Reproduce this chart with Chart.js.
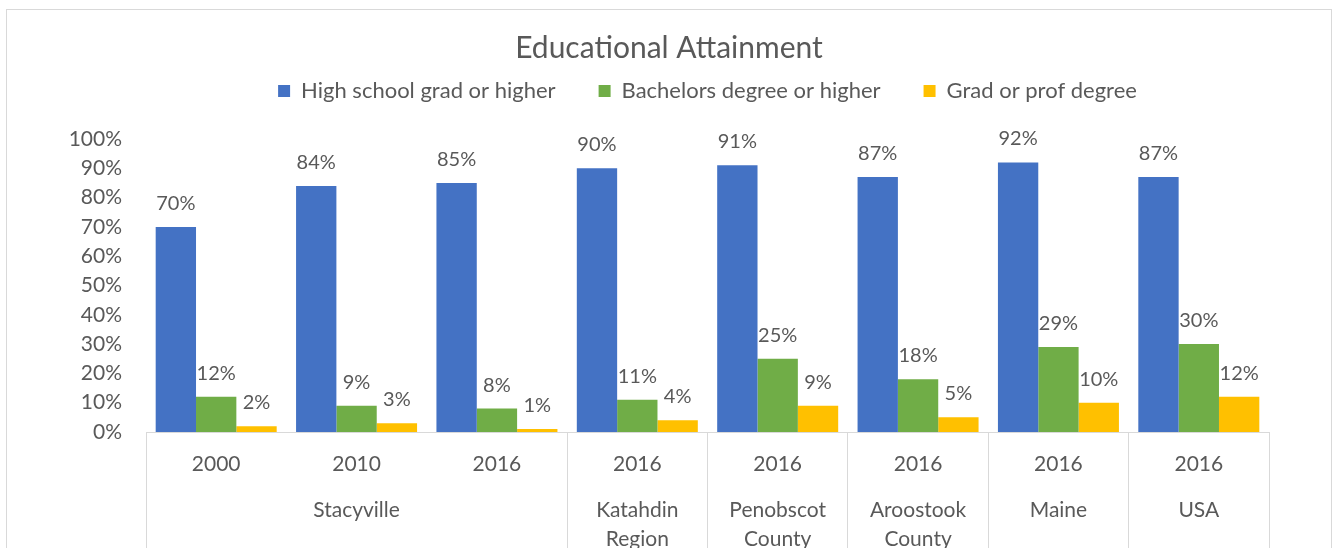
<!DOCTYPE html>
<html>
<head>
<meta charset="utf-8">
<script src="https://cdn.jsdelivr.net/npm/chart.js@4.4.1/dist/chart.umd.min.js"></script>
<style>
  html, body { margin: 0; padding: 0; background: #ffffff; }
  canvas { display: block; }
</style>
</head>
<body>
<canvas class="edu-chart" width="1333" height="548"></canvas>
<script>
const years = ["2000", "2010", "2016", "2016", "2016", "2016", "2016", "2016"];
const places = ["Stacyville", ["Katahdin", "Region"], ["Penobscot", "County"], ["Aroostook", "County"], "Maine", "USA"];
const placeSizes = [3, 1, 1, 1, 1, 1];

const highSchool = [70, 84, 85, 90, 91, 87, 92, 87];
const bachelors = [12, 9, 8, 11, 25, 18, 29, 30];
const gradProf = [2, 3, 1, 4, 9, 5, 10, 12];

const seriesNames = ["High school grad or higher", "Bachelors degree or higher", "Grad or prof degree"];

const textColor = "#595959";
const lineColor = "#d9d9d9";
const fontFamily = "Lato, 'Noto Sans', sans-serif";

// one label per category for the second axis row, placed in the middle of its group
const placeLabels = [];
const boundaries = new Set([0]);
let start = 0;
placeSizes.forEach((size, i) => {
    for (let k = 0; k < size; k++) {
        placeLabels.push(k === Math.floor(size / 2) ? places[i] : "");
    }
    start += size;
    boundaries.add(start);
});

const frame = {
    id: "frame",
    beforeDraw(chart) {
        const ctx = chart.ctx;
        ctx.save();
        ctx.strokeStyle = lineColor;
        ctx.lineWidth = 1;
        ctx.strokeRect(6.5, 9.5, 1325, 600);
        ctx.restore();
    },
};

const valueLabels = {
    id: "valueLabels",
    afterDatasetsDraw(chart) {
        const ctx = chart.ctx;
        ctx.save();
        ctx.fillStyle = textColor;
        ctx.font = "20px " + fontFamily;
        ctx.textAlign = "center";
        ctx.textBaseline = "alphabetic";
        chart.data.datasets.forEach((ds, i) => {
            chart.getDatasetMeta(i).data.forEach((bar, j) => {
                ctx.fillText(ds.data[j] + "%", bar.x, bar.y - 17);
            });
        });
        ctx.restore();
    },
};

new Chart(document.querySelector(".edu-chart").getContext("2d"), {
    type: "bar",
    data: {
        labels: years,
        datasets: [
            { label: seriesNames[0], data: highSchool, backgroundColor: "#4472C4" },
            { label: seriesNames[1], data: bachelors, backgroundColor: "#70AD47" },
            { label: seriesNames[2], data: gradProf, backgroundColor: "#FFC000" },
        ],
    },
    options: {
        responsive: false,
        animation: false,
        devicePixelRatio: 1,
        categoryPercentage: 0.862,
        barPercentage: 1.0,
        layout: {
            padding: { top: 0, left: 69, right: 64, bottom: 0 },
        },
        scales: {
            x: {
                type: "category",
                position: "bottom",
                weight: 0,
                offset: true,
                grid: {
                    offset: true,
                    drawOnChartArea: false,
                    drawTicks: true,
                    tickLength: 116,
                    color: (c) => (c.index === undefined || boundaries.has(c.index) ? lineColor : "rgba(0,0,0,0)"),
                },
                border: { display: true, color: lineColor },
                ticks: {
                    padding: -96,
                    autoSkip: false,
                    maxRotation: 0,
                    color: textColor,
                    font: { family: fontFamily, size: 21 },
                },
                afterFit: (scale) => { scale.height = 60; },
            },
            xPlace: {
                type: "category",
                position: "bottom",
                weight: 1,
                labels: placeLabels,
                offset: true,
                grid: { display: false, drawTicks: false },
                border: { display: false },
                ticks: {
                    padding: 3.5,
                    autoSkip: false,
                    maxRotation: 0,
                    color: textColor,
                    font: { family: fontFamily, size: 21, lineHeight: 1.4 },
                },
                afterFit: (scale) => { scale.height = 56; },
            },
            y: {
                min: 0,
                max: 100,
                grid: { display: false, drawTicks: false },
                border: { display: false },
                ticks: {
                    stepSize: 10,
                    padding: 24,
                    color: textColor,
                    font: { family: fontFamily, size: 21 },
                    callback: (v) => v + "%",
                },
                afterFit: (scale) => { scale.width = 77; },
            },
        },
        plugins: {
            title: {
                display: true,
                text: "Educational Attainment",
                color: textColor,
                font: { family: fontFamily, size: 30, weight: "normal", lineHeight: 1.2 },
                padding: { top: 30, bottom: -29 },
            },
            legend: {
                display: true,
                position: "top",
                fullSize: false,
                labels: {
                    boxWidth: 12,
                    boxHeight: 12,
                    padding: 43,
                    color: textColor,
                    font: { family: fontFamily, size: 22 },
                },
            },
            subtitle: {
                display: true,
                text: "",
                weight: 500,
                font: { size: 10, lineHeight: 1.2 },
                padding: { top: 15, bottom: 0 },
            },
            tooltip: { enabled: false },
        },
    },
    plugins: [frame, valueLabels],
});
</script>
</body>
</html>
